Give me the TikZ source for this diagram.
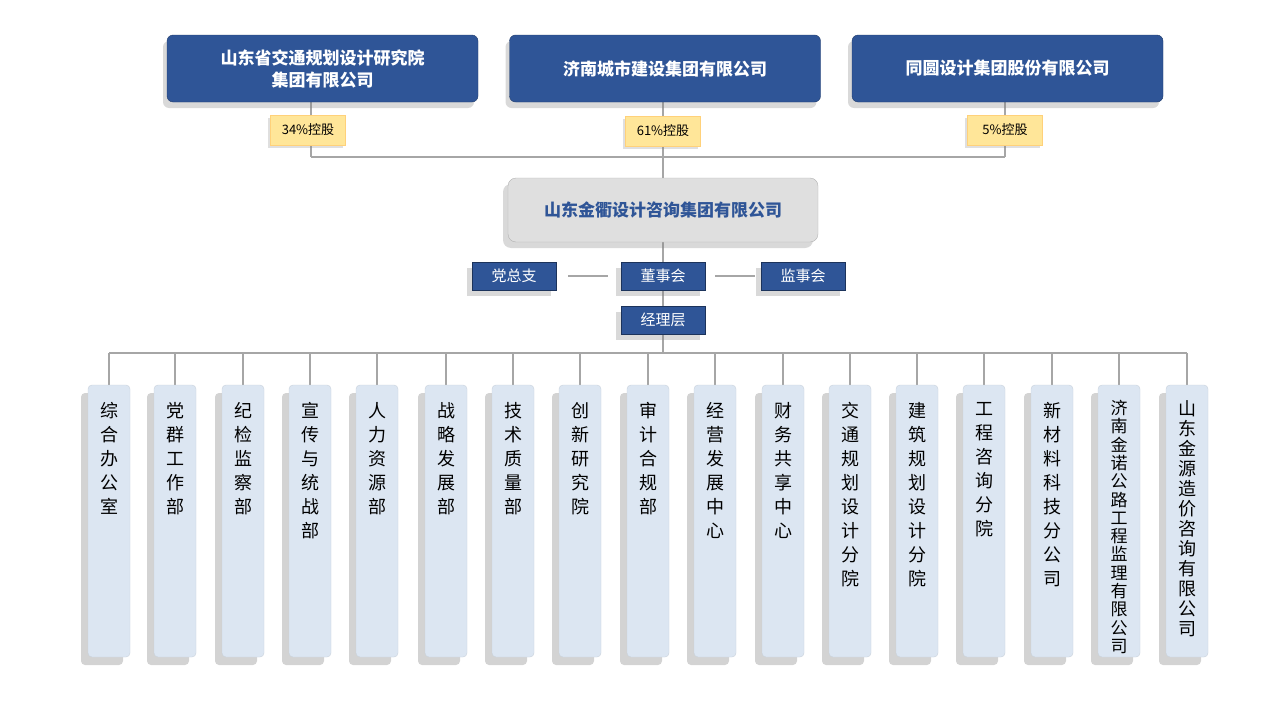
\documentclass[tikz,border=0pt]{standalone}
\usepackage{fontspec}
\setmainfont{Noto Sans CJK SC}
\usetikzlibrary{shadows}
\definecolor{dblue}{HTML}{2F5597}
\definecolor{colfill}{HTML}{DCE6F2}
\definecolor{lblfill}{HTML}{FFE699}
\lineskiplimit=-30pt
\tikzset{
 topbox/.style={draw=dblue!70!black,fill=dblue,rounded corners=6pt,text=white,font=\fontsize{17}{22}\selectfont\bfseries,align=center,minimum width=311pt,minimum height=67pt,drop shadow={shadow xshift=-4pt,shadow yshift=-6pt,opacity=0.3}},
 mainbox/.style={draw=gray!60,fill=gray!25,rounded corners=8pt,text=dblue,font=\fontsize{17}{20}\selectfont\bfseries,minimum width=310pt,minimum height=64pt,drop shadow={shadow xshift=-5pt,shadow yshift=-6pt,opacity=0.3}},
 pct/.style={fill=lblfill,draw=lblfill!80!orange,font=\fontsize{13}{15}\selectfont,minimum width=75pt,minimum height=30pt,drop shadow={shadow xshift=-3pt,shadow yshift=-3pt,opacity=0.25}},
 smallbox/.style={draw=dblue!60!black,fill=dblue,text=white,font=\fontsize{15}{17}\selectfont,minimum width=84pt,minimum height=28pt,drop shadow={shadow xshift=-5pt,shadow yshift=-6pt,opacity=0.3}},
 col/.style={fill=colfill,draw=colfill!80!gray,rounded corners=4pt,minimum width=42pt,minimum height=272pt,drop shadow={shadow xshift=-7pt,shadow yshift=-8pt,opacity=0.35}},
 coltext/.style={font=\fontsize{18}{24}\selectfont,align=center,anchor=north,inner sep=0pt},
 coltextsm/.style={font=\fontsize{17}{18.3}\selectfont,align=center,anchor=north,inner sep=0pt},
 coltextmd/.style={font=\fontsize{18}{20}\selectfont,align=center,anchor=north,inner sep=0pt},
 ln/.style={draw=gray!70,line width=1.2pt}
}
\begin{document}
\begin{tikzpicture}[x=1pt,y=-1pt]
\useasboundingbox (0,0) rectangle (1280,720);
\coordinate (h1) at (311,157); \coordinate (h2) at (663,157); \coordinate (h3) at (1005,157);
\draw[ln] (h1) -- (h3);
\draw[ln] (311,102) -- (h1);
\draw[ln] (663,102) -- (663,178);
\draw[ln] (1005,102) -- (h3);
\draw[ln] (663,242) -- (663,353);
\draw[ln] (109,353) -- (1187,353);
\node[topbox] (t1) at (322.5,68.5) {山东省交通规划设计研究院\\集团有限公司};
\node[topbox] (t2) at (665,68.5) {济南城市建设集团有限公司};
\node[topbox] (t3) at (1007.5,68.5) {同圆设计集团股份有限公司};
\node[pct] (p1) at (308,130) {34\%控股};
\node[pct] (p2) at (663,131) {61\%控股};
\node[pct] (p3) at (1005,130) {5\%控股};
\node[mainbox] (m) at (663,210) {山东金衢设计咨询集团有限公司};
\node[smallbox] (a) at (514,276) {党总支};
\node[smallbox] (b) at (663,276) {董事会};
\node[smallbox] (c) at (803,276) {监事会};
\node[smallbox] (d) at (663,320) {经理层};
\draw[ln] (568,276) -- (608,276);
\draw[ln] (715,276) -- (755,276);
\foreach \i/\x/\t in {
 1/109/{综\\合\\办\\公\\室},
 2/175/{党\\群\\工\\作\\部},
 3/243/{纪\\检\\监\\察\\部},
 4/310/{宣\\传\\与\\统\\战\\部},
 5/377/{人\\力\\资\\源\\部},
 6/446/{战\\略\\发\\展\\部},
 7/513/{技\\术\\质\\量\\部},
 8/580/{创\\新\\研\\究\\院},
 9/648/{审\\计\\合\\规\\部},
 10/715/{经\\营\\发\\展\\中\\心},
 11/783/{财\\务\\共\\享\\中\\心},
 12/850/{交\\通\\规\\划\\设\\计\\分\\院},
 13/917/{建\\筑\\规\\划\\设\\计\\分\\院},
 14/984/{工\\程\\咨\\询\\分\\院},
 15/1052/{新\\材\\料\\科\\技\\分\\公\\司}} {
 \draw[ln] (\x,353) -- (\x,385);
 \node[col] (c\i) at (\x,521) {};
 \node[coltext] (l\i) at (\x,402) {\t};
}
\draw[ln] (1119,353) -- (1119,385);
\node[col] (c16) at (1119,521) {};
\node[coltextsm] (l16) at (1119,400) {济\\南\\金\\诺\\公\\路\\工\\程\\监\\理\\有\\限\\公\\司};
\draw[ln] (1187,353) -- (1187,385);
\node[col] (c17) at (1187,521) {};
\node[coltextmd] (l17) at (1187,400) {山\\东\\金\\源\\造\\价\\咨\\询\\有\\限\\公\\司};
\end{tikzpicture}
\end{document}
